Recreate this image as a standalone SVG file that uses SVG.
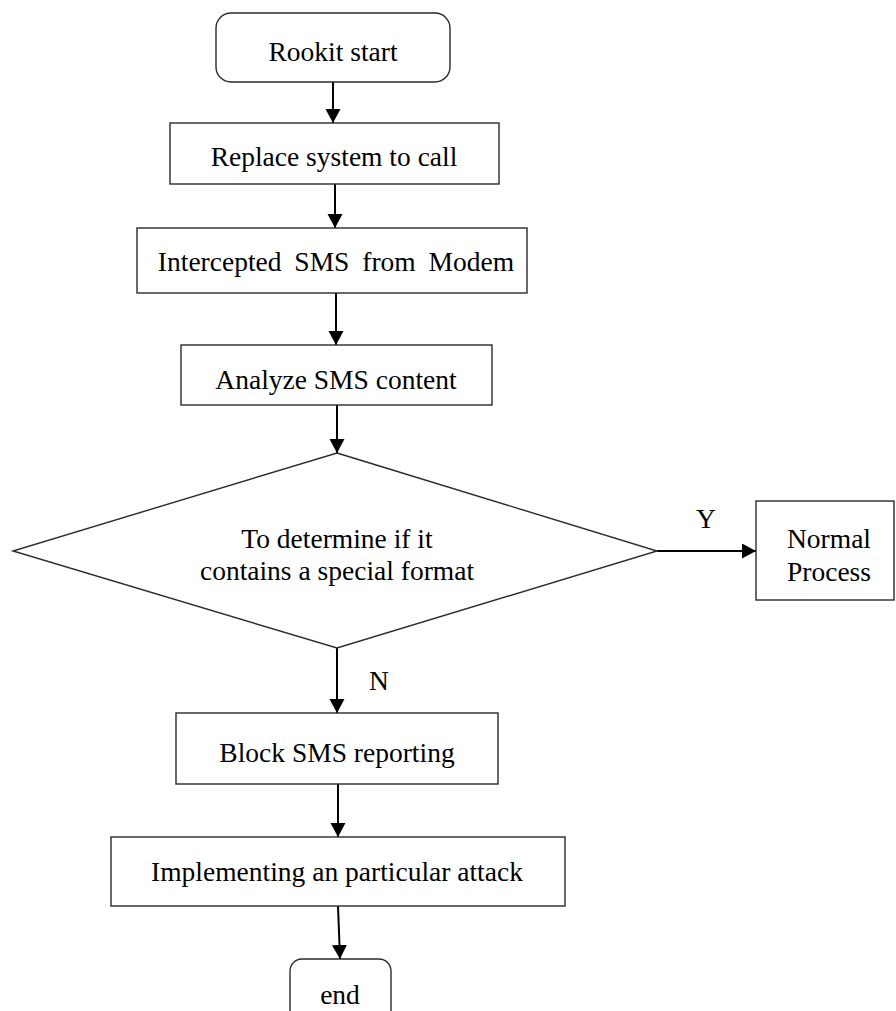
<svg xmlns="http://www.w3.org/2000/svg" width="896" height="1011" viewBox="0 0 896 1011">
<style>
.box{fill:#fff;stroke:#2a2a2a;stroke-width:1.4}
.t{font-family:"Liberation Serif","Times New Roman",serif;font-size:27.5px;fill:#000;text-anchor:middle}
.c{stroke:#000;stroke-width:2;fill:none;marker-end:url(#ah)}
</style>
<defs>
<marker id="ah" markerUnits="userSpaceOnUse" markerWidth="15" markerHeight="16" refX="14" refY="7.5" orient="auto">
<path d="M0,0 L14,7.5 L0,15 Z" fill="#000"/>
</marker>
</defs>
<rect width="896" height="1011" fill="#fff"/>
<g id="connectors">
<line class="c" x1="333" y1="82" x2="333" y2="123"/>
<line class="c" x1="335" y1="184" x2="335" y2="228"/>
<line class="c" x1="336" y1="293" x2="336" y2="345"/>
<line class="c" x1="337" y1="405" x2="337" y2="453"/>
<line class="c" x1="657" y1="551" x2="756" y2="551"/>
<line class="c" x1="337" y1="648" x2="337" y2="713"/>
<line class="c" x1="338" y1="784" x2="338" y2="837"/>
<line class="c" x1="338" y1="906" x2="340" y2="959"/>
<text class="t" x="706" y="528">Y</text>
<text class="t" x="379" y="690">N</text>
</g>
<g id="start">
<rect class="box" x="216" y="13" width="234" height="69" rx="15"/>
<text class="t" x="333" y="61">Rookit start</text>
</g>
<g id="replace">
<rect class="box" x="170" y="123" width="329" height="61"/>
<text class="t" x="334" y="166">Replace system to call</text>
</g>
<g id="intercept">
<rect class="box" x="137" y="228" width="390" height="65"/>
<text class="t" x="336" y="271" word-spacing="6">Intercepted SMS from Modem</text>
</g>
<g id="analyze">
<rect class="box" x="181" y="345" width="311" height="60"/>
<text class="t" x="336" y="389">Analyze SMS content</text>
</g>
<g id="decision">
<polygon class="box" points="337,453 657,551 337,648 13,551"/>
<text class="t" x="337" y="548" font-size="27">To determine if it</text>
<text class="t" x="337" y="580" font-size="27">contains a special format</text>
</g>
<g id="normal">
<rect class="box" x="756" y="501" width="138" height="99"/>
<text class="t" x="829" y="548">Normal</text>
<text class="t" x="829" y="581">Process</text>
</g>
<g id="block">
<rect class="box" x="176" y="713" width="322" height="71"/>
<text class="t" x="337" y="762">Block SMS reporting</text>
</g>
<g id="implement">
<rect class="box" x="111" y="837" width="454" height="69"/>
<text class="t" x="337" y="881">Implementing an particular attack</text>
</g>
<g id="end">
<rect class="box" x="290" y="959" width="101" height="70" rx="12"/>
<text class="t" x="340" y="1004">end</text>
</g>
</svg>
